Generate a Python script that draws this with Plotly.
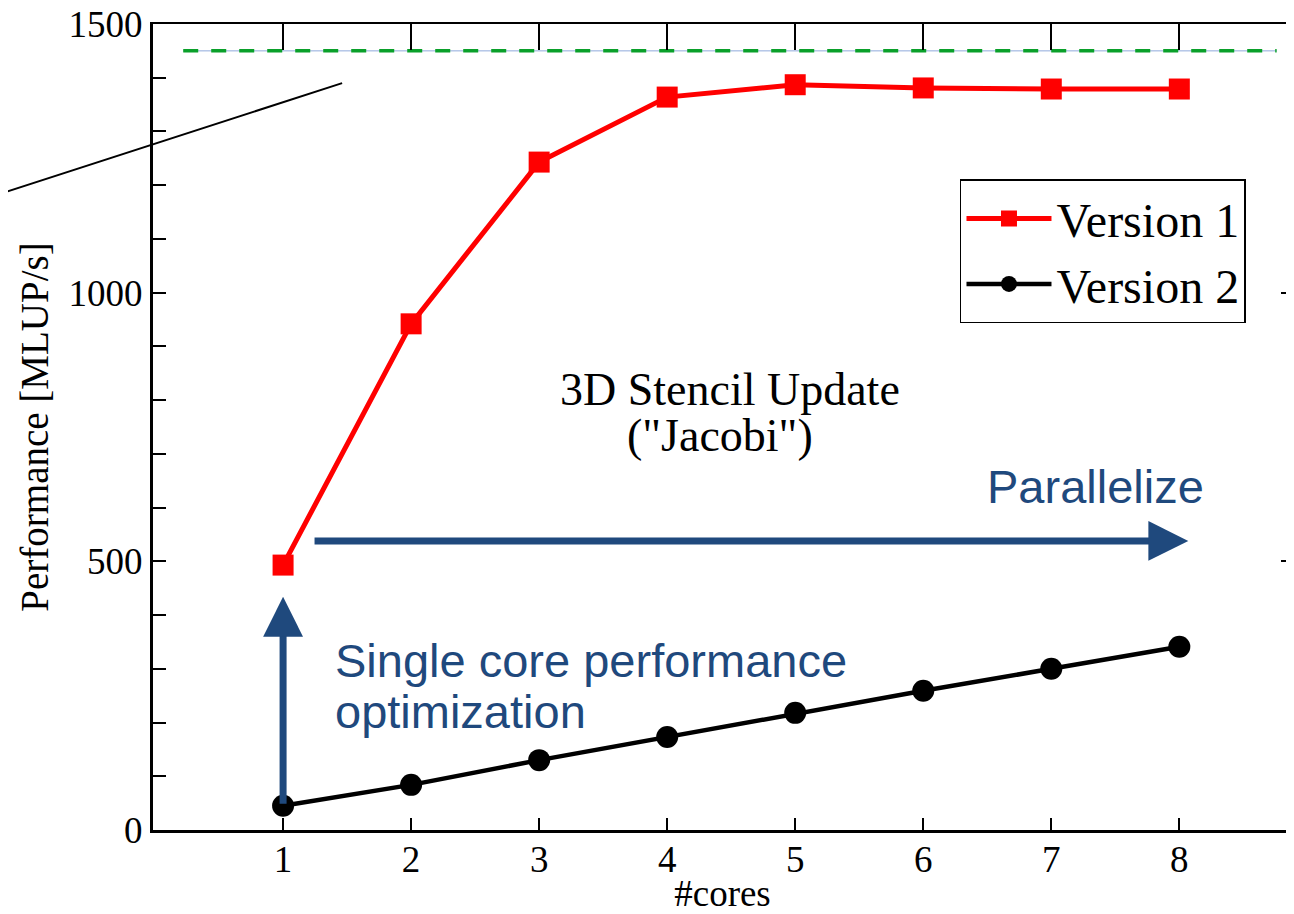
import plotly.graph_objects as go

# ---- data ----
cores = [1, 2, 3, 4, 5, 6, 7, 8]
version1 = [493, 942, 1243, 1364, 1387, 1381, 1379, 1379]
version2 = [45, 84, 130, 173, 218, 259, 300, 341]
peak_x = [0.22, 8.76]
peak_y = [1450, 1450]
x_ticks = [1, 2, 3, 4, 5, 6, 7, 8]
y_ticks = [0, 500, 1000, 1500]

X_RANGE = [-0.016, 8.88]
Y_RANGE = [0, 1500]
BLUE = "#1F497D"
SERIF = "Liberation Serif, Times New Roman, serif"
SANS = "Liberation Sans, Arial, sans-serif"

fig = go.Figure()

# peak performance line (thin blue under green dashes)
fig.add_trace(go.Scatter(x=peak_x, y=peak_y, mode="lines", xaxis="x2", yaxis="y2",
                         line=dict(color="#8FAADC", width=1), showlegend=False, hoverinfo="skip"))
fig.add_trace(go.Scatter(x=peak_x, y=peak_y, mode="lines", xaxis="x2", yaxis="y2",
                         line=dict(color="#0AA02A", width=3.5, dash="15px,13px"),
                         showlegend=False, hoverinfo="skip"))

fig.add_trace(go.Scatter(x=cores, y=version1, mode="lines+markers", name="Version 1",
                         line=dict(color="#FF0000", width=5),
                         marker=dict(symbol="square", size=21, color="#FF0000")))
fig.add_trace(go.Scatter(x=cores, y=version2, mode="lines+markers", name="Version 2",
                         line=dict(color="black", width=4.5),
                         marker=dict(symbol="circle", size=22, color="black")))

annotations = [
    # diagonal black line
    dict(x=1.461, y=1390, ax=-1.211, ay=1184, xref="x", yref="y", axref="x", ayref="y",
         text="", showarrow=True, arrowhead=0, arrowwidth=2, arrowcolor="black"),
    # horizontal arrow (Parallelize)
    dict(x=8.07, y=538, ax=1.234, ay=538, xref="x", yref="y", axref="x", ayref="y",
         text="", showarrow=True, arrowhead=2, arrowsize=1.14, arrowwidth=7, arrowcolor=BLUE),
    # vertical arrow (single core)
    dict(x=1, y=434, ax=1, ay=46, xref="x", yref="y", axref="x", ayref="y",
         text="", showarrow=True, arrowhead=2, arrowsize=1.14, arrowwidth=7, arrowcolor=BLUE),
    dict(x=4.49, y=819, xref="x", yref="y", text="3D Stencil Update", showarrow=False,
         font=dict(family=SERIF, size=46, color="black")),
    dict(x=4.41, y=735, xref="x", yref="y", text="(\"Jacobi\")", showarrow=False,
         font=dict(family=SERIF, size=46, color="black")),
    dict(x=6.48, y=640, xref="x", yref="y", text="Parallelize", showarrow=False,
         xanchor="left", font=dict(family=SANS, size=47, color=BLUE)),
    dict(x=1.39, y=316, xref="x", yref="y", text="Single core performance", showarrow=False,
         xanchor="left", font=dict(family=SANS, size=47, color=BLUE)),
    dict(x=1.39, y=220, xref="x", yref="y", text="optimization", showarrow=False,
         xanchor="left", font=dict(family=SANS, size=47, color=BLUE)),
]

# the page body adds an 8px offset, so the figure is 8px smaller than the window
fig.update_layout(
    width=1286, height=906,
    margin=dict(l=145, r=2, t=16, b=84),
    paper_bgcolor="white", plot_bgcolor="white",
    font=dict(family=SERIF, size=37, color="black"),
    showlegend=True,
    legend=dict(x=0.7085, y=0.718, xanchor="left", yanchor="middle",
                bgcolor="white", bordercolor="black", borderwidth=1.5,
                font=dict(family=SERIF, size=48, color="black"),
                tracegroupgap=0, itemwidth=85),
    annotations=annotations,
    xaxis=dict(range=X_RANGE, tickvals=x_ticks, ticks="inside", ticklen=12, tickwidth=1.5,
               tickcolor="black", showline=True, linewidth=3, linecolor="black",
               showgrid=False, zeroline=False, automargin=False, ticklabelstandoff=-5,
               ticklabeloverflow="allow",
               tickfont=dict(family=SERIF, size=37),
               title=dict(text="#cores", font=dict(family=SERIF, size=37), standoff=0)),
    yaxis=dict(range=Y_RANGE, tickvals=y_ticks, ticks="inside", ticklen=13, tickwidth=1.5,
               tickcolor="black", showline=True, linewidth=3, linecolor="black",
               showgrid=False, zeroline=False, automargin=False,
               ticklabeloverflow="allow",
               minor=dict(ticks="inside", ticklen=13, tickwidth=1.5, tickcolor="black", dtick=100),
               tickfont=dict(family=SERIF, size=37),
               title=dict(text="Performance [MLUP/s]", font=dict(family=SERIF, size=39), standoff=8)),
    xaxis2=dict(range=X_RANGE, overlaying="x", side="top", anchor="y2", tickvals=x_ticks,
                ticks="inside", ticklen=26, tickwidth=1.5, tickcolor="black",
                showline=True, linewidth=2, linecolor="black", showticklabels=False,
                showgrid=False, zeroline=False, automargin=False),
    yaxis2=dict(range=Y_RANGE, overlaying="y", side="right", anchor="x2", tickvals=y_ticks,
                ticks="inside", ticklen=11, tickwidth=1.5, tickcolor="black",
                showline=True, linewidth=2, linecolor="black", showticklabels=False,
                showgrid=False, zeroline=False, automargin=False),
)

fig.write_html("out.html")
